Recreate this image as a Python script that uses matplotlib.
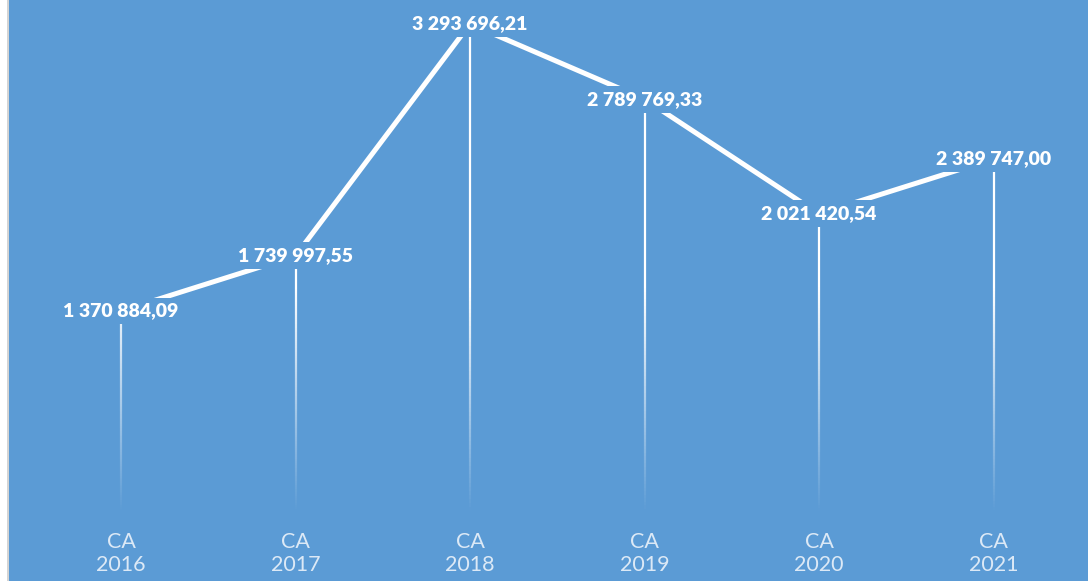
import numpy as np
import matplotlib
matplotlib.use("Agg")
import matplotlib.pyplot as plt
from matplotlib.collections import LineCollection
from matplotlib.patches import Rectangle

categories = ["CA\n2016", "CA\n2017", "CA\n2018", "CA\n2019", "CA\n2020", "CA\n2021"]
values = [1370884.09, 1739997.55, 3293696.21, 2789769.33, 2021420.54, 2389747.00]
labels = ["1 370 884,09", "1 739 997,55", "3 293 696,21", "2 789 769,33", "2 021 420,54", "2 389 747,00"]

BG = "#5B9BD5"
W, H = 1088, 581
fig = plt.figure(figsize=(W / 100, H / 100), dpi=100, facecolor=BG)
fig.patches.append(Rectangle((0, 0), 7 / W, 1, transform=fig.transFigure, facecolor="white", edgecolor="none", zorder=-1))
fig.patches.append(Rectangle((7 / W, 0), 2 / W, 1, transform=fig.transFigure, facecolor="#D4D4D4", edgecolor="none", zorder=-1))

left = 33.75 / W
right = 1080.75 / W
bottom = (H - 515.6) / H
ax = fig.add_axes([left, bottom, right - left, 1 - bottom])
ax.set_facecolor("none")
for s in ax.spines.values():
    s.set_visible(False)

x = np.arange(len(values))
ax.set_xlim(-0.5, len(values) - 0.5)
ax.set_ylim(0, 3454000)

# gradient drop lines
fade = 1.5e6
for xi, v in zip(x, values):
    ys = np.linspace(0, v, 120)
    segs = [[(xi, ys[k]), (xi, ys[k + 1])] for k in range(len(ys) - 1)]
    mids = (ys[:-1] + ys[1:]) / 2
    alphas = np.clip((mids - 30000) / fade, 0, 1)
    cols = [(1, 1, 1, a) for a in alphas]
    lc = LineCollection(segs, colors=cols, linewidths=1.6, zorder=2, capstyle="butt")
    ax.add_collection(lc)

ax.plot(x, values, color="white", lw=3.6, zorder=3, solid_capstyle="butt")

for xi, v, lab in zip(x, values, labels):
    ax.text(xi, v, lab, ha="center", va="center", color="white", fontsize=14,
            fontweight="heavy", family=["Lato", "DejaVu Sans"], zorder=5,
            bbox=dict(boxstyle="square,pad=0.25", facecolor=BG, edgecolor="none"))

ax.set_xticks(x)
ax.set_xticklabels(categories, color="#DCE9F6", fontsize=15.5, family=["Lato", "DejaVu Sans"], linespacing=1.2)
ax.tick_params(axis="x", length=0, pad=12)
ax.set_yticks([])

fig.savefig("out.png", dpi=100, facecolor=BG)
